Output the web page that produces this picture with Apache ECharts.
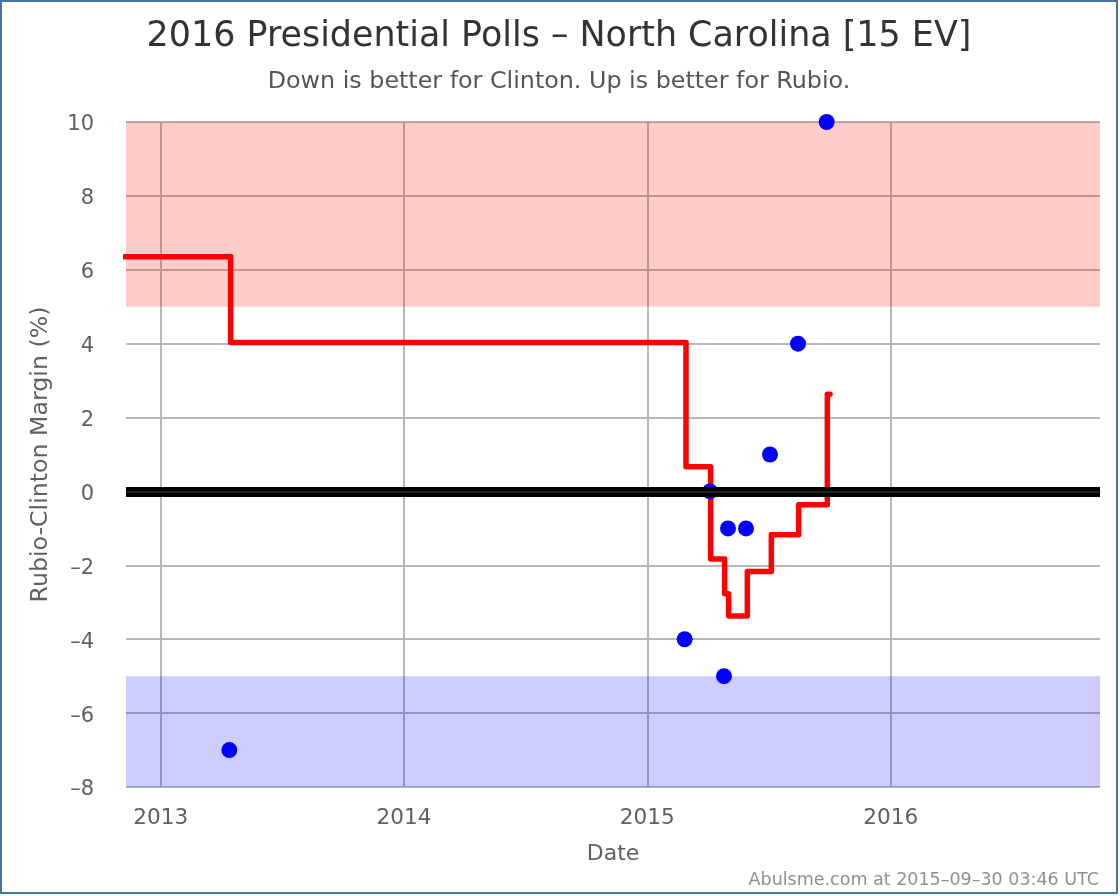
<!DOCTYPE html>
<html>
<head>
<meta charset="utf-8">
<script src="https://cdn.jsdelivr.net/npm/echarts@6/dist/echarts.min.js"></script>
<style>
  html, body { margin: 0; padding: 0; background: #fff; }
  #chart { width: 1118px; height: 894px; }
</style>
</head>
<body>
<div id="chart"></div>
<script>
// polls
const pollDates = ['2013-04-14', '2015-02-26', '2015-04-05', '2015-04-26', '2015-05-02', '2015-05-29', '2015-07-04', '2015-08-15', '2015-09-27'];
const pollMargins = [-7, -4, 0, -5, -1, -1, 1, 4, 10];
// poll average, each value holds until the next date
const avgDates = ['2012-11-08', '2013-04-16', '2015-02-28', '2015-04-06', '2015-04-27', '2015-05-03', '2015-05-31', '2015-07-06', '2015-08-16', '2015-09-28', '2015-10-02'];
const avgMargins = [6.35, 4.03, 0.67, -1.83, -2.77, -3.37, -2.17, -1.17, -0.36, 2.63, 2.63];
const xRange = ['2012-11-10', '2016-11-10'];
const yTicks = { min: -8, max: 10, step: 2 };
const redBand = [5, 10];
const blueBand = [-8, -5];

const zip = (xs, ys) => xs.map((x, i) => [x, ys[i]]);
const YEAR_MS = 365 * 24 * 3600 * 1000;

const chart = echarts.init(document.getElementById('chart'));
const fontFamily = '"DejaVu Sans", sans-serif';

chart.setOption({
  animation: false,
  textStyle: { fontFamily },
  title: [
    { text: '2016 Presidential Polls – North Carolina [15 EV]', left: 'center', top: 14,
      textStyle: { fontSize: 34.9, fontWeight: 'normal', color: '#333333', fontFamily } },
    { text: 'Down is better for Clinton. Up is better for Rubio.', left: 'center', top: 65,
      textStyle: { fontSize: 23.8, fontWeight: 'normal', color: '#555555', fontFamily } },
    { text: 'Abulsme.com at 2015–09–30 03:46 UTC', right: 14, top: 866,
      textStyle: { fontSize: 17.5, fontWeight: 'normal', color: '#909090', fontFamily } }
  ],
  graphic: [{
    type: 'rect', silent: true,
    shape: { x: 1, y: 1, width: 1116, height: 892 },
    style: { fill: 'none', stroke: '#4572A7', lineWidth: 2 }
  }],
  grid: { left: 126, top: 122, width: 974, height: 665 },
  xAxis: {
    type: 'time',
    min: xRange[0],
    max: xRange[1],
    minInterval: YEAR_MS,
    name: 'Date',
    nameLocation: 'middle',
    nameGap: 56,
    nameTextStyle: { fontSize: 22, color: '#606060' },
    axisLine: { lineStyle: { color: '#C0D0E0', width: 2 } },
    axisTick: { show: false },
    axisLabel: {
      formatter: v => {
        const d = new Date(v);
        return d.getMonth() === 0 && d.getDate() === 1 ? String(d.getFullYear()) : '';
      },
      fontSize: 21.6, color: '#606060', margin: 20
    },
    splitLine: { show: true, showMinLine: false, showMaxLine: false, lineStyle: { color: '#B8B8B8', width: 2 } }
  },
  yAxis: {
    type: 'value',
    min: yTicks.min,
    max: yTicks.max,
    interval: yTicks.step,
    name: 'Rubio-Clinton Margin (%)',
    nameLocation: 'middle',
    nameGap: 73,
    nameTextStyle: { fontSize: 23.7, color: '#606060' },
    axisLine: { show: false },
    axisTick: { show: false },
    axisLabel: {
      formatter: v => String(v).replace('-', '–'),
      fontSize: 21, color: '#606060', margin: 32, verticalAlign: 'top', lineHeight: 6
    },
    splitLine: { lineStyle: { color: '#B8B8B8', width: 2 } }
  },
  series: [
    {
      // bands and the zero line sit under the marks
      type: 'line',
      data: [],
      z: 2,
      markArea: {
        silent: true,
        data: [
          [{ yAxis: redBand[0], itemStyle: { color: 'rgba(255,0,0,0.2)' } }, { yAxis: redBand[1] }],
          [{ yAxis: blueBand[0], itemStyle: { color: 'rgba(0,0,255,0.2)' } }, { yAxis: blueBand[1] }]
        ]
      },
      markLine: {
        silent: true,
        symbol: 'none',
        label: { show: false },
        data: [
          { yAxis: 0, lineStyle: { color: '#000000', width: 10, type: 'solid' } },
          { yAxis: 0, lineStyle: { color: '#222222', width: 2, type: 'solid' } }
        ]
      }
    },
    {
      type: 'line',
      step: 'end',
      data: zip(avgDates, avgMargins),
      showSymbol: false,
      clip: false,
      z: 3,
      lineStyle: { color: '#FF0000', width: 5.5, cap: 'round', join: 'round' }
    },
    {
      type: 'scatter',
      data: zip(pollDates, pollMargins),
      symbolSize: 16,
      clip: false,
      z: 4,
      itemStyle: { color: '#0000FF', opacity: 1 }
    }
  ]
});
</script>
</body>
</html>
